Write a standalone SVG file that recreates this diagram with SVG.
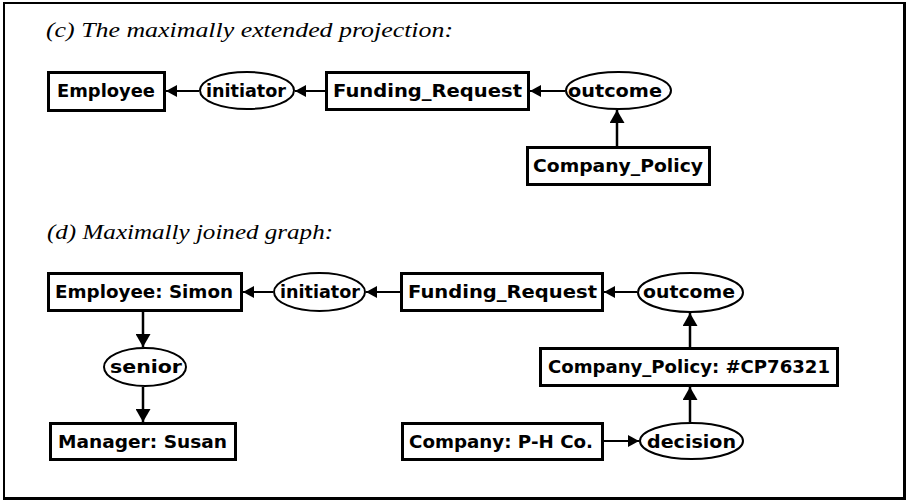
<svg xmlns="http://www.w3.org/2000/svg" width="907" height="501" viewBox="0 0 907 501">
<style>
.box{fill:#fff;stroke:#000;stroke-width:3}
.rel{fill:#fff;stroke:#000;stroke-width:2}
.lbl{font-family:"DejaVu Sans",sans-serif;font-weight:bold;font-size:17px;text-anchor:middle;fill:#000}
.ttl{font-family:"Liberation Serif","Times New Roman",serif;font-style:italic;font-size:22px;fill:#000}
.h{stroke:#000;stroke-width:2;marker-end:url(#ah)}
.v{stroke:#000;stroke-width:2.5;marker-end:url(#av)}
</style>
<defs>
<marker id="ah" markerUnits="userSpaceOnUse" markerWidth="11" markerHeight="12" refX="11" refY="6" orient="auto">
<path d="M0,0 L11,6 L0,12 z" fill="#000"/>
</marker>
<marker id="av" markerUnits="userSpaceOnUse" markerWidth="13" markerHeight="15" refX="13" refY="7.5" orient="auto">
<path d="M0,0 L13,7.5 L0,15 z" fill="#000"/>
</marker>
</defs>
<rect x="0" y="0" width="907" height="501" fill="#fff"/>
<rect x="4" y="3" width="900" height="495" fill="none" stroke="#000" stroke-width="2"/>
<line x1="905" y1="2" x2="905" y2="500" stroke="#000" stroke-width="2"/>
<line x1="3" y1="499" x2="906" y2="499" stroke="#000" stroke-width="2"/>

<text class="ttl" x="46" y="36.5" textLength="407" lengthAdjust="spacingAndGlyphs">(c) The maximally extended projection:</text>
<text class="ttl" x="47" y="239" textLength="286" lengthAdjust="spacingAndGlyphs">(d) Maximally joined graph:</text>

<g id="connectors">
<line class="h" x1="199" y1="91" x2="166" y2="91"/>
<line class="h" x1="325" y1="91" x2="295" y2="91"/>
<line class="h" x1="565" y1="91" x2="530" y2="91"/>
<line class="v" x1="617" y1="146" x2="617" y2="110"/>
<line class="h" x1="273" y1="292" x2="243" y2="292"/>
<line class="h" x1="400" y1="292" x2="366" y2="292"/>
<line class="h" x1="637" y1="292" x2="604" y2="292"/>
<line class="v" x1="143" y1="312" x2="143" y2="347"/>
<line class="v" x1="143" y1="387" x2="143" y2="422"/>
<line class="v" x1="690" y1="347" x2="690" y2="313"/>
<line class="v" x1="690" y1="422" x2="690" y2="387"/>
<line class="h" x1="604" y1="441" x2="639" y2="441"/>
</g>

<g id="c-employee"><rect class="box" x="48.5" y="72.5" width="116" height="38"/><text class="lbl" x="106" y="97" textLength="98" lengthAdjust="spacingAndGlyphs">Employee</text></g>
<g id="c-initiator"><ellipse class="rel" cx="247" cy="90.5" rx="47" ry="18.5"/><text class="lbl" x="246" y="97" textLength="80" lengthAdjust="spacingAndGlyphs">initiator</text></g>
<g id="c-funding"><rect class="box" x="326.5" y="72.5" width="202" height="37"/><text class="lbl" x="427.5" y="97" textLength="189" lengthAdjust="spacingAndGlyphs">Funding_Request</text></g>
<g id="c-outcome"><ellipse class="rel" cx="618.5" cy="90.5" rx="52.5" ry="18.5"/><text class="lbl" x="615" y="97" textLength="94" lengthAdjust="spacingAndGlyphs">outcome</text></g>
<g id="c-policy"><rect class="box" x="527.5" y="147.5" width="182" height="37"/><text class="lbl" x="618" y="172" textLength="170" lengthAdjust="spacingAndGlyphs">Company_Policy</text></g>

<g id="d-employee"><rect class="box" x="48.5" y="273.5" width="193" height="37"/><text class="lbl" x="144" y="298" textLength="178" lengthAdjust="spacingAndGlyphs">Employee: Simon</text></g>
<g id="d-initiator"><ellipse class="rel" cx="319.5" cy="292" rx="45.5" ry="19"/><text class="lbl" x="320" y="298" textLength="80" lengthAdjust="spacingAndGlyphs">initiator</text></g>
<g id="d-funding"><rect class="box" x="401.5" y="273.5" width="201" height="37"/><text class="lbl" x="502.5" y="298" textLength="189" lengthAdjust="spacingAndGlyphs">Funding_Request</text></g>
<g id="d-outcome"><ellipse class="rel" cx="690.5" cy="292.5" rx="52.5" ry="19.5"/><text class="lbl" x="689" y="298" textLength="92" lengthAdjust="spacingAndGlyphs">outcome</text></g>
<g id="d-senior"><ellipse class="rel" cx="145" cy="367" rx="41" ry="19"/><text class="lbl" x="146" y="373" textLength="72" lengthAdjust="spacingAndGlyphs">senior</text></g>
<g id="d-manager"><rect class="box" x="50.5" y="423.5" width="185" height="36"/><text class="lbl" x="142.5" y="447.5" textLength="169" lengthAdjust="spacingAndGlyphs">Manager: Susan</text></g>
<g id="d-policy"><rect class="box" x="540.5" y="348.5" width="297" height="37"/><text class="lbl" x="689" y="373" textLength="282" lengthAdjust="spacingAndGlyphs">Company_Policy: #CP76321</text></g>
<g id="d-company"><rect class="box" x="402.5" y="423.5" width="200" height="36"/><text class="lbl" x="501" y="447.5" textLength="184" lengthAdjust="spacingAndGlyphs">Company: P-H Co.</text></g>
<g id="d-decision"><ellipse class="rel" cx="691.5" cy="441" rx="51.5" ry="18"/><text class="lbl" x="691.5" y="447.5" textLength="89" lengthAdjust="spacingAndGlyphs">decision</text></g>
</svg>
